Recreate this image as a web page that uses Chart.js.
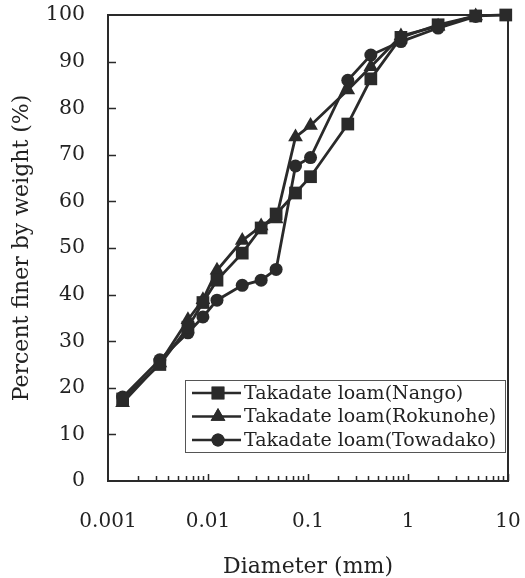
<!DOCTYPE html>
<html>
<head>
<meta charset="utf-8">
<script src="https://cdn.jsdelivr.net/npm/chart.js@4/dist/chart.umd.min.js"></script>
<style>
  html, body { margin: 0; padding: 0; background: #fff; }
  #wrap { width: 525px; height: 578px; position: relative; }
</style>
</head>
<body>
<div id="wrap"><canvas id="c" width="525" height="578"></canvas></div>
<script>
// ---- data ----
const diameters = [0.0014, 0.0033, 0.0063, 0.0089, 0.0123, 0.022, 0.034, 0.048, 0.075, 0.106, 0.25, 0.425, 0.85, 2.0, 4.75, 9.5];
const nango    = [17.6, 25.0, 33.0, 38.3, 43.1, 48.9, 54.3, 57.3, 61.8, 65.3, 76.6, 86.3, 95.2, 97.9, 99.8, 100];
const rokunohe = [16.8, 25.3, 34.6, 38.9, 45.2, 51.6, 54.7, 56.2, 73.8, 76.3, 83.9, 88.9, 95.5, 97.6, 99.8];
const towadako = [18.0, 26.0, 31.8, 35.2, 38.8, 42.0, 43.1, 45.4, 67.6, 69.4, 86.0, 91.4, 94.3, 97.2, 99.7];
const seriesLabels = ['Takadate loam(Nango)', 'Takadate loam(Rokunohe)', 'Takadate loam(Towadako)'];
const xTickLabels = [0.001, 0.01, 0.1, 1, 10];
const yTickValues = [0, 10, 20, 30, 40, 50, 60, 70, 80, 90, 100];

const INK = '#2a2a2a';
const FONT = 'DejaVu Serif';

function pts(ys) { return ys.map((y, i) => ({ x: diameters[i], y: y })); }

const styles = [
  { pointStyle: 'rect', radius: 9 },
  { pointStyle: 'triangle', radius: 8.5 },
  { pointStyle: 'circle', radius: 6.5 }
];
const seriesData = [nango, rokunohe, towadako];

const datasets = seriesData.map((ys, i) => ({
  label: seriesLabels[i],
  data: pts(ys),
  showLine: true,
  borderColor: INK,
  backgroundColor: INK,
  borderWidth: 2.8,
  pointStyle: styles[i].pointStyle,
  pointRadius: styles[i].radius,
  pointBorderWidth: 0,
  pointBackgroundColor: INK,
  tension: 0,
  clip: 12
}));

const framePlugin = {
  id: 'frame',
  afterDatasetsDraw(chart) {
    const { ctx, chartArea: a, scales: { x, y } } = chart;
    ctx.save();
    ctx.strokeStyle = INK;
    ctx.lineWidth = 2;
    // top and right border
    ctx.beginPath();
    ctx.moveTo(a.left, a.top);
    ctx.lineTo(a.right, a.top);
    ctx.lineTo(a.right, a.bottom);
    ctx.stroke();
    // y ticks inward
    ctx.lineWidth = 1.5;
    ctx.beginPath();
    yTickValues.forEach(v => {
      if (v === 0 || v === 100) return;
      const py = Math.round(y.getPixelForValue(v)) + 0.5;
      ctx.moveTo(a.left, py);
      ctx.lineTo(a.left + 8, py);
    });
    // x minor ticks inward
    for (let e = -3; e < 1; e++) {
      for (let m = 2; m <= 10; m++) {
        const v = m * Math.pow(10, e);
        const px = Math.round(x.getPixelForValue(v)) + 0.5;
        const len = (m === 10) ? 7 : 5;
        ctx.moveTo(px, a.bottom);
        ctx.lineTo(px, a.bottom - len);
      }
    }
    ctx.stroke();

    // legend box
    const bw = 320, bh = 72;
    const bx = a.right - 3 - bw, by = a.bottom - 29 - bh;
    ctx.fillStyle = '#fff';
    ctx.fillRect(bx, by, bw, bh);
    ctx.lineWidth = 1;
    ctx.strokeStyle = '#555';
    ctx.strokeRect(bx + 0.5, by + 0.5, bw, bh);
    ctx.font = '19px "' + FONT + '"';
    ctx.textBaseline = 'middle';
    ctx.textAlign = 'left';
    chart.data.datasets.forEach((ds, i) => {
      const cy = by + 13 + i * 23.5;
      ctx.strokeStyle = INK;
      ctx.lineWidth = 2.5;
      ctx.beginPath();
      ctx.moveTo(bx + 7, cy);
      ctx.lineTo(bx + 56, cy);
      ctx.stroke();
      ctx.fillStyle = INK;
      Chart.helpers.drawPoint(ctx, { pointStyle: ds.pointStyle, radius: ds.pointRadius, borderWidth: 0 }, bx + 33, cy);
      ctx.fill();
      ctx.fillStyle = '#222';
      ctx.fillText(ds.label, bx + 59, cy + 1);
    });
    ctx.restore();
  }
};

new Chart(document.getElementById('c'), {
  type: 'scatter',
  data: { datasets },
  options: {
    responsive: false,
    animation: false,
    layout: { padding: { top: 15, right: 17, left: 0, bottom: 0 } },
    plugins: { legend: { display: false }, tooltip: { enabled: false } },
    scales: {
      x: {
        type: 'logarithmic',
        min: 0.001,
        max: 10,
        afterFit(s) { s.height = 97; s.paddingLeft = 0; s.paddingRight = 0; },
        afterBuildTicks(s) { s.ticks = xTickLabels.map(v => ({ value: v })); },
        grid: { display: false, drawTicks: false },
        border: { display: true, color: INK, width: 2 },
        ticks: {
          autoSkip: false,
          maxRotation: 0,
          padding: 29,
          color: '#222',
          font: { family: FONT, size: 20 },
          callback: (v) => String(v)
        },
        title: {
          display: true,
          text: 'Diameter (mm)',
          color: '#222',
          font: { family: FONT, size: 22 },
          padding: { top: 0, bottom: -2 }
        }
      },
      y: {
        min: 0,
        max: 100,
        afterFit(s) { s.width = 108; s.paddingTop = 0; s.paddingBottom = 0; },
        afterBuildTicks(s) { s.ticks = yTickValues.map(v => ({ value: v })); },
        grid: { display: false, drawTicks: false },
        border: { display: true, color: INK, width: 2 },
        ticks: {
          padding: 23,
          color: '#222',
          font: { family: FONT, size: 20.5 }
        },
        title: {
          display: true,
          text: 'Percent finer by weight (%)',
          color: '#222',
          font: { family: FONT, size: 22 },
          padding: { top: 9, bottom: 0 }
        }
      }
    }
  },
  plugins: [framePlugin]
});
</script>
</body>
</html>
